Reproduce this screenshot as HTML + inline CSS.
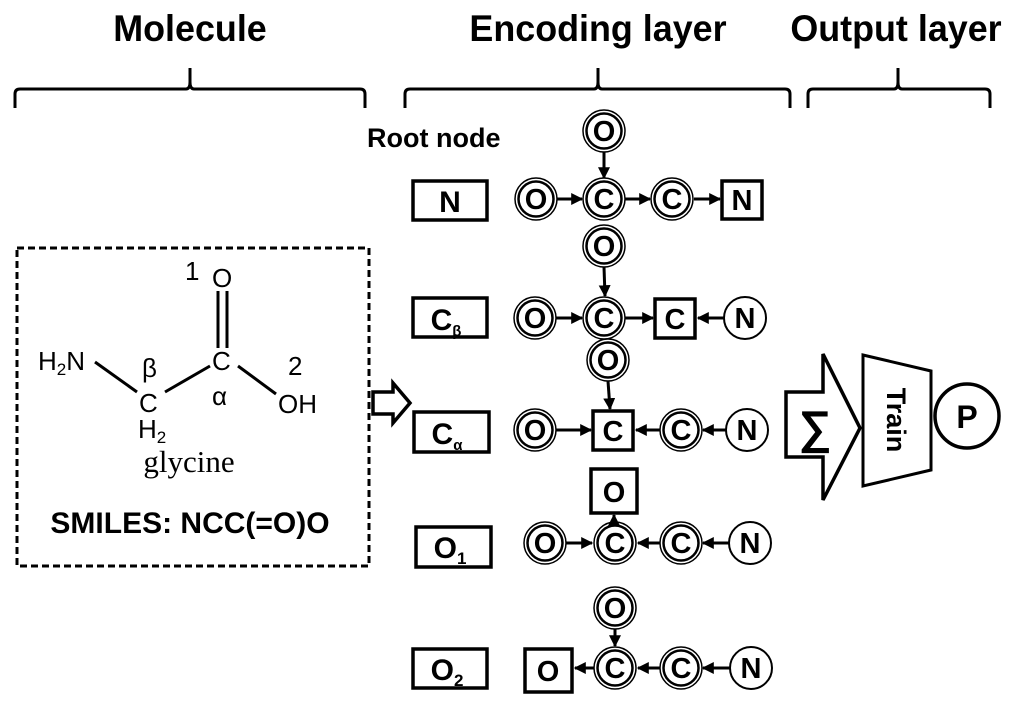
<!DOCTYPE html>
<html><head><meta charset="utf-8"><style>
html,body{margin:0;padding:0;background:#fff;}
svg{display:block;}
text{font-family:"Liberation Sans",sans-serif;}
.h{font-weight:bold;font-size:37px;}
.n{font-weight:bold;font-size:29px;text-anchor:middle;}
</style></head><body>
<svg width="1024" height="704" viewBox="0 0 1024 704" xmlns="http://www.w3.org/2000/svg">
<defs>
<marker id="a" viewBox="0 0 10 10" refX="9" refY="5" markerWidth="4" markerHeight="4" orient="auto"><path d="M0,0L10,5L0,10z" fill="#000"/></marker>
</defs>
<g text-anchor="middle">
<text x="190" y="41" class="h" transform="translate(190,0) scale(0.97,1) translate(-190,0)">Molecule</text>
<text x="598" y="41" class="h" transform="translate(598,0) scale(0.97,1) translate(-598,0)">Encoding layer</text>
<text x="896" y="41" class="h" transform="translate(896,0) scale(0.97,1) translate(-896,0)">Output layer</text>
</g>
<g fill="none" stroke="#000" stroke-width="3">
<path d="M15,108 L15,94 Q15,89 20,89 L186,89 Q190,89 190,82 L190,68 M190,82 Q190,89 194,89 L360,89 Q365,89 365,94 L365,108"/>
<path d="M405,108 L405,94 Q405,89 410,89 L594,89 Q598,89 598,82 L598,68 M598,82 Q598,89 602,89 L785,89 Q790,89 790,94 L790,108"/>
<path d="M808,108 L808,94 Q808,89 813,89 L894,89 Q898,89 898,82 L898,68 M898,82 Q898,89 902,89 L985,89 Q990,89 990,94 L990,108"/>
</g>
<rect x="17" y="248" width="352" height="318" fill="none" stroke="#000" stroke-width="3" stroke-dasharray="7,4"/>
<g font-size="26" fill="#000">
<text x="38" y="370">H<tspan font-size="17" dy="5">2</tspan><tspan dy="-5">N</tspan></text>
<text x="185" y="280">1</text>
<text x="212" y="287">O</text>
<text x="212" y="370">C</text>
<text x="142" y="377">β</text>
<text x="212" y="405">α</text>
<text x="288" y="375">2</text>
<text x="278" y="413">OH</text>
<text x="139" y="412">C</text>
<text x="138" y="438">H<tspan font-size="17" dy="5">2</tspan></text>
</g>
<g stroke="#000" stroke-width="3" fill="none">
<line x1="95" y1="362" x2="137" y2="392"/>
<line x1="165" y1="392" x2="210" y2="366"/>
<line x1="238" y1="366" x2="276" y2="394"/>
<line x1="218" y1="291" x2="218" y2="348"/>
<line x1="227" y1="291" x2="227" y2="348"/>
</g>
<text x="189" y="472" font-size="31" text-anchor="middle" style="font-family:'Liberation Serif',serif">glycine</text>
<text x="190" y="533" font-size="30" font-weight="bold" text-anchor="middle">SMILES: NCC(=O)O</text>
<path d="M373,392 L393,392 L393,383 L410,403 L393,423 L393,414 L373,414 Z" fill="#fff" stroke="#000" stroke-width="3.5"/>
<text x="367" y="147" font-size="27" font-weight="bold">Root node</text>
<g fill="none" stroke="#000" stroke-width="3.5">
<rect x="413" y="181" width="74" height="39"/>
<rect x="413" y="298" width="74" height="39"/>
<rect x="414" y="412" width="75" height="40"/>
<rect x="416" y="527" width="75" height="40"/>
<rect x="413" y="649" width="74" height="39"/>
</g>
<g>
<text x="450" y="212" class="n" style="font-size:30px">N</text>
<text x="446" y="330" class="n" style="font-size:30px">C<tspan font-size="15" dy="6">β</tspan></text>
<text x="447" y="444" class="n" style="font-size:30px">C<tspan font-size="15" dy="6">α</tspan></text>
<text x="450" y="558" class="n" style="font-size:30px">O<tspan font-size="17" dy="6">1</tspan></text>
<text x="447" y="680" class="n" style="font-size:30px">O<tspan font-size="17" dy="6">2</tspan></text>
</g>
<g stroke="#000" stroke-width="3" marker-end="url(#a)">
<line x1="604" y1="152" x2="604" y2="178"/>
<line x1="557" y1="199" x2="582" y2="199"/>
<line x1="625" y1="199" x2="650" y2="199"/>
<line x1="694" y1="199" x2="720" y2="199"/>
<line x1="604" y1="267" x2="605" y2="296"/>
<line x1="556" y1="318" x2="582" y2="318"/>
<line x1="625" y1="318" x2="653" y2="318"/>
<line x1="725" y1="318" x2="698" y2="318"/>
<line x1="608" y1="381" x2="610" y2="409"/>
<line x1="556" y1="430" x2="591" y2="430"/>
<line x1="660" y1="430" x2="636" y2="430"/>
<line x1="727" y1="430" x2="703" y2="430"/>
<line x1="566" y1="543" x2="592" y2="543"/>
<line x1="660" y1="543" x2="638" y2="543"/>
<line x1="730" y1="543" x2="703" y2="543"/>
<line x1="615" y1="629" x2="615" y2="646"/>
<line x1="594" y1="668" x2="575" y2="668"/>
<line x1="660" y1="668" x2="638" y2="668"/>
<line x1="730" y1="668" x2="703" y2="668"/>
</g>
<g fill="#fff" stroke="#000">
<g>
<g stroke-width="1.5">
<circle cx="604" cy="131" r="21"/><circle cx="536" cy="199" r="21"/><circle cx="604" cy="199" r="21"/><circle cx="672" cy="199" r="21"/>
<circle cx="604" cy="246" r="21"/><circle cx="535" cy="318" r="21"/><circle cx="604" cy="318" r="21"/>
<circle cx="608" cy="360" r="21"/><circle cx="535" cy="430" r="21"/><circle cx="681" cy="430" r="21"/>
<circle cx="545" cy="543" r="21"/><circle cx="615" cy="543" r="21"/><circle cx="681" cy="543" r="21"/>
<circle cx="615" cy="608" r="21"/><circle cx="615" cy="668" r="21"/><circle cx="681" cy="668" r="21"/>
</g>
<g stroke-width="2.5">
<circle cx="604" cy="131" r="17.5"/><circle cx="536" cy="199" r="17.5"/><circle cx="604" cy="199" r="17.5"/><circle cx="672" cy="199" r="17.5"/>
<circle cx="604" cy="246" r="17.5"/><circle cx="535" cy="318" r="17.5"/><circle cx="604" cy="318" r="17.5"/>
<circle cx="608" cy="360" r="17.5"/><circle cx="535" cy="430" r="17.5"/><circle cx="681" cy="430" r="17.5"/>
<circle cx="545" cy="543" r="17.5"/><circle cx="615" cy="543" r="17.5"/><circle cx="681" cy="543" r="17.5"/>
<circle cx="615" cy="608" r="17.5"/><circle cx="615" cy="668" r="17.5"/><circle cx="681" cy="668" r="17.5"/>
</g>
<g stroke-width="2">
<circle cx="745" cy="318" r="21"/><circle cx="747" cy="430" r="21"/><circle cx="750" cy="543" r="21"/><circle cx="751" cy="668" r="21"/>
</g>
</g>
<g stroke-width="3.5">
<rect x="722" y="181" width="40" height="38"/>
<rect x="655" y="299" width="40" height="39"/>
<rect x="593" y="411" width="40" height="39"/>
<rect x="591" y="469" width="46" height="44"/>
<rect x="525" y="649" width="47" height="43"/>
</g>
</g>
<line x1="614" y1="523" x2="614" y2="515" stroke="#000" stroke-width="3" marker-end="url(#a)"/>
<g>
<text x="604" y="141" class="n">O</text>
<text x="536" y="209" class="n">O</text><text x="604" y="209" class="n">C</text><text x="672" y="209" class="n">C</text><text x="742" y="210" class="n">N</text>
<text x="604" y="256" class="n">O</text>
<text x="535" y="328" class="n">O</text><text x="604" y="328" class="n">C</text><text x="675" y="329" class="n">C</text><text x="745" y="328" class="n">N</text>
<text x="608" y="370" class="n">O</text>
<text x="535" y="440" class="n">O</text><text x="613" y="441" class="n">C</text><text x="681" y="440" class="n">C</text><text x="747" y="440" class="n">N</text>
<text x="614" y="502" class="n">O</text>
<text x="545" y="553" class="n">O</text><text x="615" y="553" class="n">C</text><text x="681" y="553" class="n">C</text><text x="750" y="553" class="n">N</text>
<text x="615" y="618" class="n">O</text>
<text x="548" y="681" class="n">O</text><text x="615" y="678" class="n">C</text><text x="681" y="678" class="n">C</text><text x="751" y="678" class="n">N</text>
</g>
<path d="M786,392 L823,392 L823,354 L860,428 L823,500 L823,457 L786,457 Z" fill="#fff" stroke="#000" stroke-width="3.5"/>
<text x="815" y="443" font-size="46" font-weight="bold" text-anchor="middle">∑</text>
<path d="M863,355 L931,371 L931,470 L863,486 Z" fill="#fff" stroke="#000" stroke-width="3"/>
<text x="0" y="0" font-size="27" font-weight="bold" text-anchor="middle" transform="translate(887,420) rotate(90)">Train</text>
<circle cx="967" cy="416" r="32" fill="#fff" stroke="#000" stroke-width="3.5"/>
<text x="967" y="428" class="n" style="font-size:32px">P</text>
</svg>
</body></html>
